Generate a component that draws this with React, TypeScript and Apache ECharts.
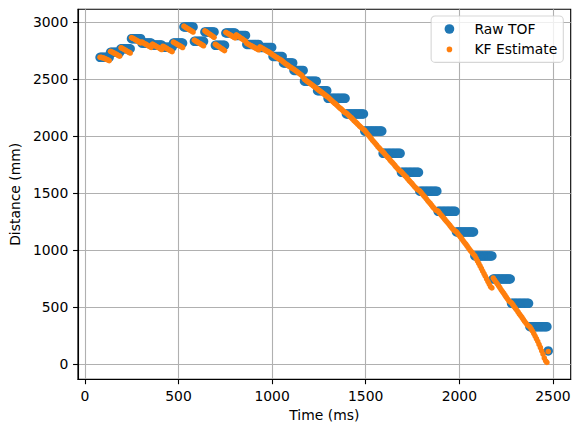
import React, { useEffect, useRef } from "react";
import * as echarts from "echarts";

// Sample times (ms)
const timeMs = [
  81, 88, 95, 102, 109, 116, 123, 130,
  137, 144, 151, 158, 165, 172, 179, 186,
  193, 200, 207, 214, 221, 228, 235, 242,
  249, 256, 263, 270, 277, 284, 291, 298,
  305, 312, 319, 326, 333, 340, 347, 354,
  361, 368, 375, 382, 389, 396, 403, 410,
  417, 424, 431, 438, 445, 452, 459, 466,
  473, 480, 487, 494, 501, 508, 515, 522,
  529, 536, 543, 550, 557, 564, 571, 578,
  585, 592, 599, 606, 613, 620, 627, 634,
  641, 648, 655, 662, 669, 676, 683, 690,
  697, 704, 711, 718, 725, 732, 739, 746,
  753, 760, 767, 774, 781, 788, 795, 802,
  809, 816, 823, 830, 837, 844, 851, 858,
  865, 872, 879, 886, 893, 900, 907, 914, 921, 928,
  935, 942, 949, 956, 963, 970, 977, 984, 991, 998,
  1005, 1012, 1019, 1026, 1033, 1040, 1047, 1054,
  1061, 1068, 1075, 1082, 1089, 1096, 1103, 1110,
  1117, 1124, 1131, 1138, 1145, 1152, 1159, 1166,
  1173, 1180, 1187, 1194, 1201, 1208, 1215, 1222, 1229, 1236,
  1243, 1250, 1257, 1264, 1271, 1278, 1285, 1292,
  1299, 1306, 1313, 1320, 1327, 1334, 1341, 1348, 1355, 1362, 1369, 1376, 1383, 1390,
  1397, 1404, 1411, 1418, 1425, 1432, 1439, 1446, 1453, 1460, 1467, 1474, 1481, 1488,
  1495, 1502, 1509, 1516, 1523, 1530, 1537, 1544, 1551, 1558, 1565, 1572, 1579, 1586,
  1593, 1600, 1607, 1614, 1621, 1628, 1635, 1642, 1649, 1656, 1663, 1670, 1677, 1684,
  1691, 1698, 1705, 1712, 1719, 1726, 1733, 1740, 1747, 1754, 1761, 1768, 1775, 1782,
  1789, 1796, 1803, 1810, 1817, 1824, 1831, 1838, 1845, 1852, 1859, 1866, 1873, 1880,
  1887, 1894, 1901, 1908, 1915, 1922, 1929, 1936, 1943, 1950, 1957, 1964, 1971, 1978,
  1985, 1992, 1999, 2006, 2013, 2020, 2027, 2034, 2041, 2048, 2055, 2062, 2069, 2076,
  2083, 2090, 2097, 2104, 2111, 2118, 2125, 2132, 2139, 2146, 2153, 2160, 2167, 2174,
  2181, 2188, 2195, 2202, 2209, 2216, 2223, 2230, 2237, 2244, 2251, 2258, 2265, 2272,
  2279, 2286, 2293, 2300, 2307, 2314, 2321, 2328, 2335, 2342, 2349, 2356, 2363, 2370,
  2377, 2384, 2391, 2398, 2405, 2412, 2419, 2426, 2433, 2440, 2447, 2454, 2461, 2468,
  2475,
];

// Raw TOF distance readings (mm)
const rawTof = [
  2693, 2693, 2693, 2693, 2693, 2693, 2693, 2693,
  2737, 2737, 2737, 2737, 2737, 2737, 2737, 2737,
  2768, 2768, 2768, 2768, 2768, 2768, 2768, 2768,
  2856, 2856, 2856, 2856, 2856, 2856, 2856, 2856,
  2818, 2818, 2818, 2818, 2818, 2818, 2818, 2818,
  2800, 2800, 2800, 2800, 2800, 2800, 2800, 2800,
  2782, 2782, 2782, 2782, 2782, 2782, 2782, 2782,
  2818, 2818, 2818, 2818, 2818, 2818, 2818, 2818,
  2959, 2959, 2959, 2959, 2959, 2959, 2959, 2959,
  2833, 2833, 2833, 2833, 2833, 2833, 2833, 2833,
  2915, 2915, 2915, 2915, 2915, 2915, 2915, 2915,
  2798, 2798, 2798, 2798, 2798, 2798, 2798, 2798,
  2906, 2906, 2906, 2906, 2906, 2906, 2906, 2906,
  2885, 2885, 2885, 2885, 2885, 2885, 2885, 2885,
  2806, 2806, 2806, 2806, 2806, 2806, 2806, 2806, 2806, 2806,
  2779, 2779, 2779, 2779, 2779, 2779, 2779, 2779, 2779, 2779,
  2700, 2700, 2700, 2700, 2700, 2700, 2700, 2700,
  2643, 2643, 2643, 2643, 2643, 2643, 2643, 2643,
  2578, 2578, 2578, 2578, 2578, 2578, 2578, 2578,
  2483, 2483, 2483, 2483, 2483, 2483, 2483, 2483, 2483, 2483,
  2400, 2400, 2400, 2400, 2400, 2400, 2400, 2400,
  2333, 2333, 2333, 2333, 2333, 2333, 2333, 2333, 2333, 2333, 2333, 2333, 2333, 2333,
  2196, 2196, 2196, 2196, 2196, 2196, 2196, 2196, 2196, 2196, 2196, 2196, 2196, 2196,
  2046, 2046, 2046, 2046, 2046, 2046, 2046, 2046, 2046, 2046, 2046, 2046, 2046, 2046,
  1851, 1851, 1851, 1851, 1851, 1851, 1851, 1851, 1851, 1851, 1851, 1851, 1851, 1851,
  1684, 1684, 1684, 1684, 1684, 1684, 1684, 1684, 1684, 1684, 1684, 1684, 1684, 1684,
  1518, 1518, 1518, 1518, 1518, 1518, 1518, 1518, 1518, 1518, 1518, 1518, 1518, 1518,
  1342, 1342, 1342, 1342, 1342, 1342, 1342, 1342, 1342, 1342, 1342, 1342, 1342, 1342,
  1161, 1161, 1161, 1161, 1161, 1161, 1161, 1161, 1161, 1161, 1161, 1161, 1161, 1161,
  950, 950, 950, 950, 950, 950, 950, 950, 950, 950, 950, 950, 950, 950,
  748, 748, 748, 748, 748, 748, 748, 748, 748, 748, 748, 748, 748, 748,
  535, 535, 535, 535, 535, 535, 535, 535, 535, 535, 535, 535, 535, 535,
  330, 330, 330, 330, 330, 330, 330, 330, 330, 330, 330, 330, 330, 330,
  117,
];

// Kalman filter estimate (mm)
const kfEstimate = [
  2693, 2692, 2689, 2685, 2680, 2675, 2670, 2664,
  2745, 2740, 2734, 2728, 2722, 2716, 2709, 2703,
  2777, 2771, 2764, 2758, 2751, 2744, 2737, 2731,
  2866, 2860, 2854, 2847, 2840, 2834, 2827, 2820,
  2827, 2820, 2813, 2807, 2800, 2793, 2786, 2780,
  2808, 2802, 2795, 2788, 2781, 2775, 2768, 2761,
  2790, 2784, 2777, 2770, 2763, 2757, 2750, 2743,
  2826, 2820, 2813, 2806, 2799, 2793, 2786, 2779,
  2966, 2958, 2951, 2944, 2937, 2929, 2922, 2915,
  2843, 2836, 2829, 2822, 2815, 2808, 2801, 2794,
  2925, 2917, 2909, 2901, 2893, 2885, 2877, 2869,
  2807, 2799, 2791, 2784, 2776, 2768, 2760, 2752,
  2912, 2905, 2898, 2891, 2884, 2877, 2870, 2863,
  2889, 2881, 2874, 2866, 2858, 2850, 2842, 2834,
  2815, 2809, 2802, 2796, 2790, 2784, 2778, 2771, 2765, 2759,
  2785, 2778, 2771, 2764, 2757, 2750, 2744, 2737, 2730, 2722,
  2712, 2705, 2697, 2690, 2683, 2676, 2669, 2660,
  2650, 2642, 2633, 2625, 2617, 2609, 2601, 2594,
  2587, 2578, 2569, 2560, 2552, 2543, 2534, 2517,
  2500, 2491, 2482, 2474, 2465, 2457, 2449, 2440, 2431, 2422,
  2413, 2404, 2395, 2387, 2378, 2369, 2360, 2351,
  2343, 2333, 2322, 2311, 2300, 2290, 2281, 2270, 2258, 2248, 2239, 2228, 2216, 2209,
  2203, 2192, 2180, 2170, 2160, 2148, 2135, 2125, 2114, 2102, 2090, 2080, 2070, 2060,
  2051, 2036, 2021, 2008, 1994, 1979, 1964, 1951, 1938, 1924, 1909, 1897, 1885, 1873,
  1862, 1849, 1835, 1822, 1810, 1796, 1782, 1770, 1758, 1744, 1729, 1717, 1705, 1696,
  1688, 1675, 1662, 1650, 1638, 1624, 1610, 1598, 1586, 1572, 1558, 1546, 1535, 1527,
  1521, 1507, 1492, 1479, 1466, 1451, 1436, 1423, 1410, 1395, 1380, 1367, 1355, 1348,
  1343, 1328, 1313, 1300, 1287, 1272, 1258, 1245, 1232, 1217, 1202, 1189, 1177, 1169,
  1162, 1146, 1130, 1116, 1101, 1085, 1069, 1055, 1040, 1023, 1007, 992, 978, 964,
  951, 928, 906, 885, 863, 840, 817, 795, 773, 749, 725, 703, 681, 670,
  757, 740, 723, 707, 691, 673, 655, 639, 623, 605, 588, 572, 556, 547,
  539, 522, 505, 490, 475, 458, 441, 426, 410, 393, 376, 361, 346, 337,
  328, 310, 291, 269, 247, 224, 201, 174, 147, 118, 89, 55, 30, 16,
  112,
];

const xTicks = [0, 500, 1000, 1500, 2000, 2500];
const yTicks = [0, 500, 1000, 1500, 2000, 2500, 3000];
const seriesNames = ["Raw TOF", "KF Estimate"];

const FONT = "DejaVu Sans";
const BLUE = "#1f77b4";
const ORANGE = "#ff7f0e";

export default function App() {
  const ref = useRef<HTMLDivElement>(null);

  useEffect(() => {
    if (!ref.current) return;
    const chart = echarts.init(ref.current, null, { renderer: "svg" });
    const rawData = timeMs.map((t, i) => [t, rawTof[i]]);
    const kfData = timeMs.map((t, i) => [t, kfEstimate[i]]);

    const axisCommon = {
      type: "value",
      nameLocation: "middle",
      nameTextStyle: { color: "#000", fontFamily: FONT, fontSize: 13.9 },
      axisLine: { show: true, onZero: false, lineStyle: { color: "#000", width: 1.1 } },
      splitLine: { show: true, lineStyle: { color: "#b0b0b0", width: 1.1 } },
    };
    const labelCommon = {
      color: "#000",
      fontFamily: FONT,
      fontSize: 13.9,
      formatter: (v: number) => String(v),
    };

    chart.setOption({
      animation: false,
      grid: {
        left: 74.7,
        right: 9.3,
        top: 9.3,
        bottom: 52.7,
        show: true,
        borderColor: "#000",
        borderWidth: 1.1,
        backgroundColor: "transparent",
      },
      xAxis: {
        ...axisCommon,
        min: -37,
        max: 2595,
        name: "Time (ms)",
        nameGap: 27,
        axisTick: { show: true, length: 4.9, customValues: xTicks, lineStyle: { color: "#000", width: 1.1 } },
        axisLabel: { ...labelCommon, customValues: xTicks, margin: 9.5 },
      },
      yAxis: {
        ...axisCommon,
        min: -132,
        max: 3114,
        name: "Distance (mm)",
        nameGap: 51,
        axisTick: { show: true, length: 4.9, customValues: yTicks, lineStyle: { color: "#000", width: 1.1 } },
        axisLabel: { ...labelCommon, customValues: yTicks, margin: 9.7 },
      },
      legend: {
        orient: "vertical",
        right: 16.7,
        top: 16,
        padding: [6, 6, 6, 13.3],
        itemWidth: 25,
        itemHeight: 10,
        itemGap: 6.4,
        selectedMode: false,
        backgroundColor: "rgba(255,255,255,0.8)",
        borderColor: "rgba(204,204,204,0.8)",
        borderWidth: 1.1,
        borderRadius: 4,
        textStyle: { color: "#000", fontFamily: FONT, fontSize: 13.9 },
        data: [
          {
            name: seriesNames[0],
            icon: "path://M0 0M25 10M5 0.15A4.85 4.85 0 1 1 5 9.85A4.85 4.85 0 1 1 5 0.15Z",
          },
          {
            name: seriesNames[1],
            icon: "path://M0 0M25 10M5 2.2A2.8 2.8 0 1 1 5 7.8A2.8 2.8 0 1 1 5 2.2Z",
          },
        ],
      },
      series: [
        {
          name: seriesNames[0],
          type: "scatter",
          data: rawData,
          symbol: "circle",
          symbolSize: 9.5,
          itemStyle: { color: BLUE, opacity: 1 },
          emphasis: { disabled: true },
          z: 2,
        },
        {
          name: seriesNames[1],
          type: "scatter",
          data: kfData,
          symbol: "circle",
          symbolSize: 5.6,
          itemStyle: { color: ORANGE, opacity: 1 },
          emphasis: { disabled: true },
          z: 3,
        },
      ],
    });

    return () => chart.dispose();
  }, []);

  return (
    <div
      ref={ref}
      style={{ position: "fixed", left: 0, top: 0, width: 580, height: 432, background: "#fff" }}
    />
  );
}
